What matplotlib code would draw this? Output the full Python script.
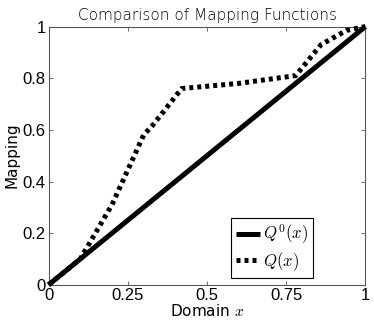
import matplotlib
matplotlib.use("Agg")
import matplotlib.pyplot as plt

# Baseline identity mapping
x_base = [0.0, 1.0]
q0_vals = [0.0, 1.0]

# Learned mapping
x_q = [0.0, 0.1, 0.2, 0.3, 0.33, 0.42, 0.6, 0.78, 0.82, 0.86, 0.94, 1.0]
q_vals = [0.0, 0.1, 0.31, 0.58, 0.62, 0.76, 0.78, 0.81, 0.87, 0.93, 0.985, 1.0]

x_ticks = [0, 0.25, 0.5, 0.75, 1]
x_tick_labels = ["0", "0.25", "0.5", "0.75", "1"]
y_ticks = [0, 0.2, 0.4, 0.6, 0.8, 1]
y_tick_labels = ["0", "0.2", "0.4", "0.6", "0.8", "1"]

plt.rcParams["mathtext.fontset"] = "cm"
plt.rcParams["font.family"] = ["Liberation Sans", "DejaVu Sans"]

fig = plt.figure(figsize=(3.74, 3.2), dpi=100)
ax = fig.add_axes([0.130, 0.110, 0.847, 0.807])

ax.plot(x_base, q0_vals, color="black", linewidth=3.6, solid_capstyle="butt",
        label=r"$Q^0(x)$", clip_on=False, zorder=3)
ax.plot(x_q, q_vals, color="black", linewidth=3.6, linestyle=(0, (0.8, 0.8)),
        label=r"$Q(x)$", clip_on=False, zorder=4)

ax.set_xlim(0, 1)
ax.set_ylim(0, 1)
ax.set_xticks(x_ticks)
ax.set_xticklabels(x_tick_labels, fontsize=12)
ax.set_yticks(y_ticks)
ax.set_yticklabels(y_tick_labels, fontsize=12)
ax.tick_params(direction="in", top=True, right=True, length=3, width=0.6,
               color="#555555", pad=2)
for spine in ax.spines.values():
    spine.set_color("#555555")
    spine.set_linewidth(0.8)

ax.set_title("Comparison of Mapping Functions", fontsize=11, pad=5,
             family="DejaVu Sans", fontweight="light")
ax.set_xlabel(r"Domain $x$", fontsize=11, labelpad=0, family="DejaVu Sans")
ax.set_ylabel("Mapping", fontsize=11, labelpad=2, family="DejaVu Sans")

leg = ax.legend(loc="lower right", bbox_to_anchor=(0.834, 0.026), fontsize=12,
                fancybox=False, framealpha=1, edgecolor="black",
                handlelength=1.4, handletextpad=0.2, borderpad=0.3,
                labelspacing=0.25, borderaxespad=0.0)
leg.get_frame().set_linewidth(0.8)

fig.savefig("out.png", dpi=100)
